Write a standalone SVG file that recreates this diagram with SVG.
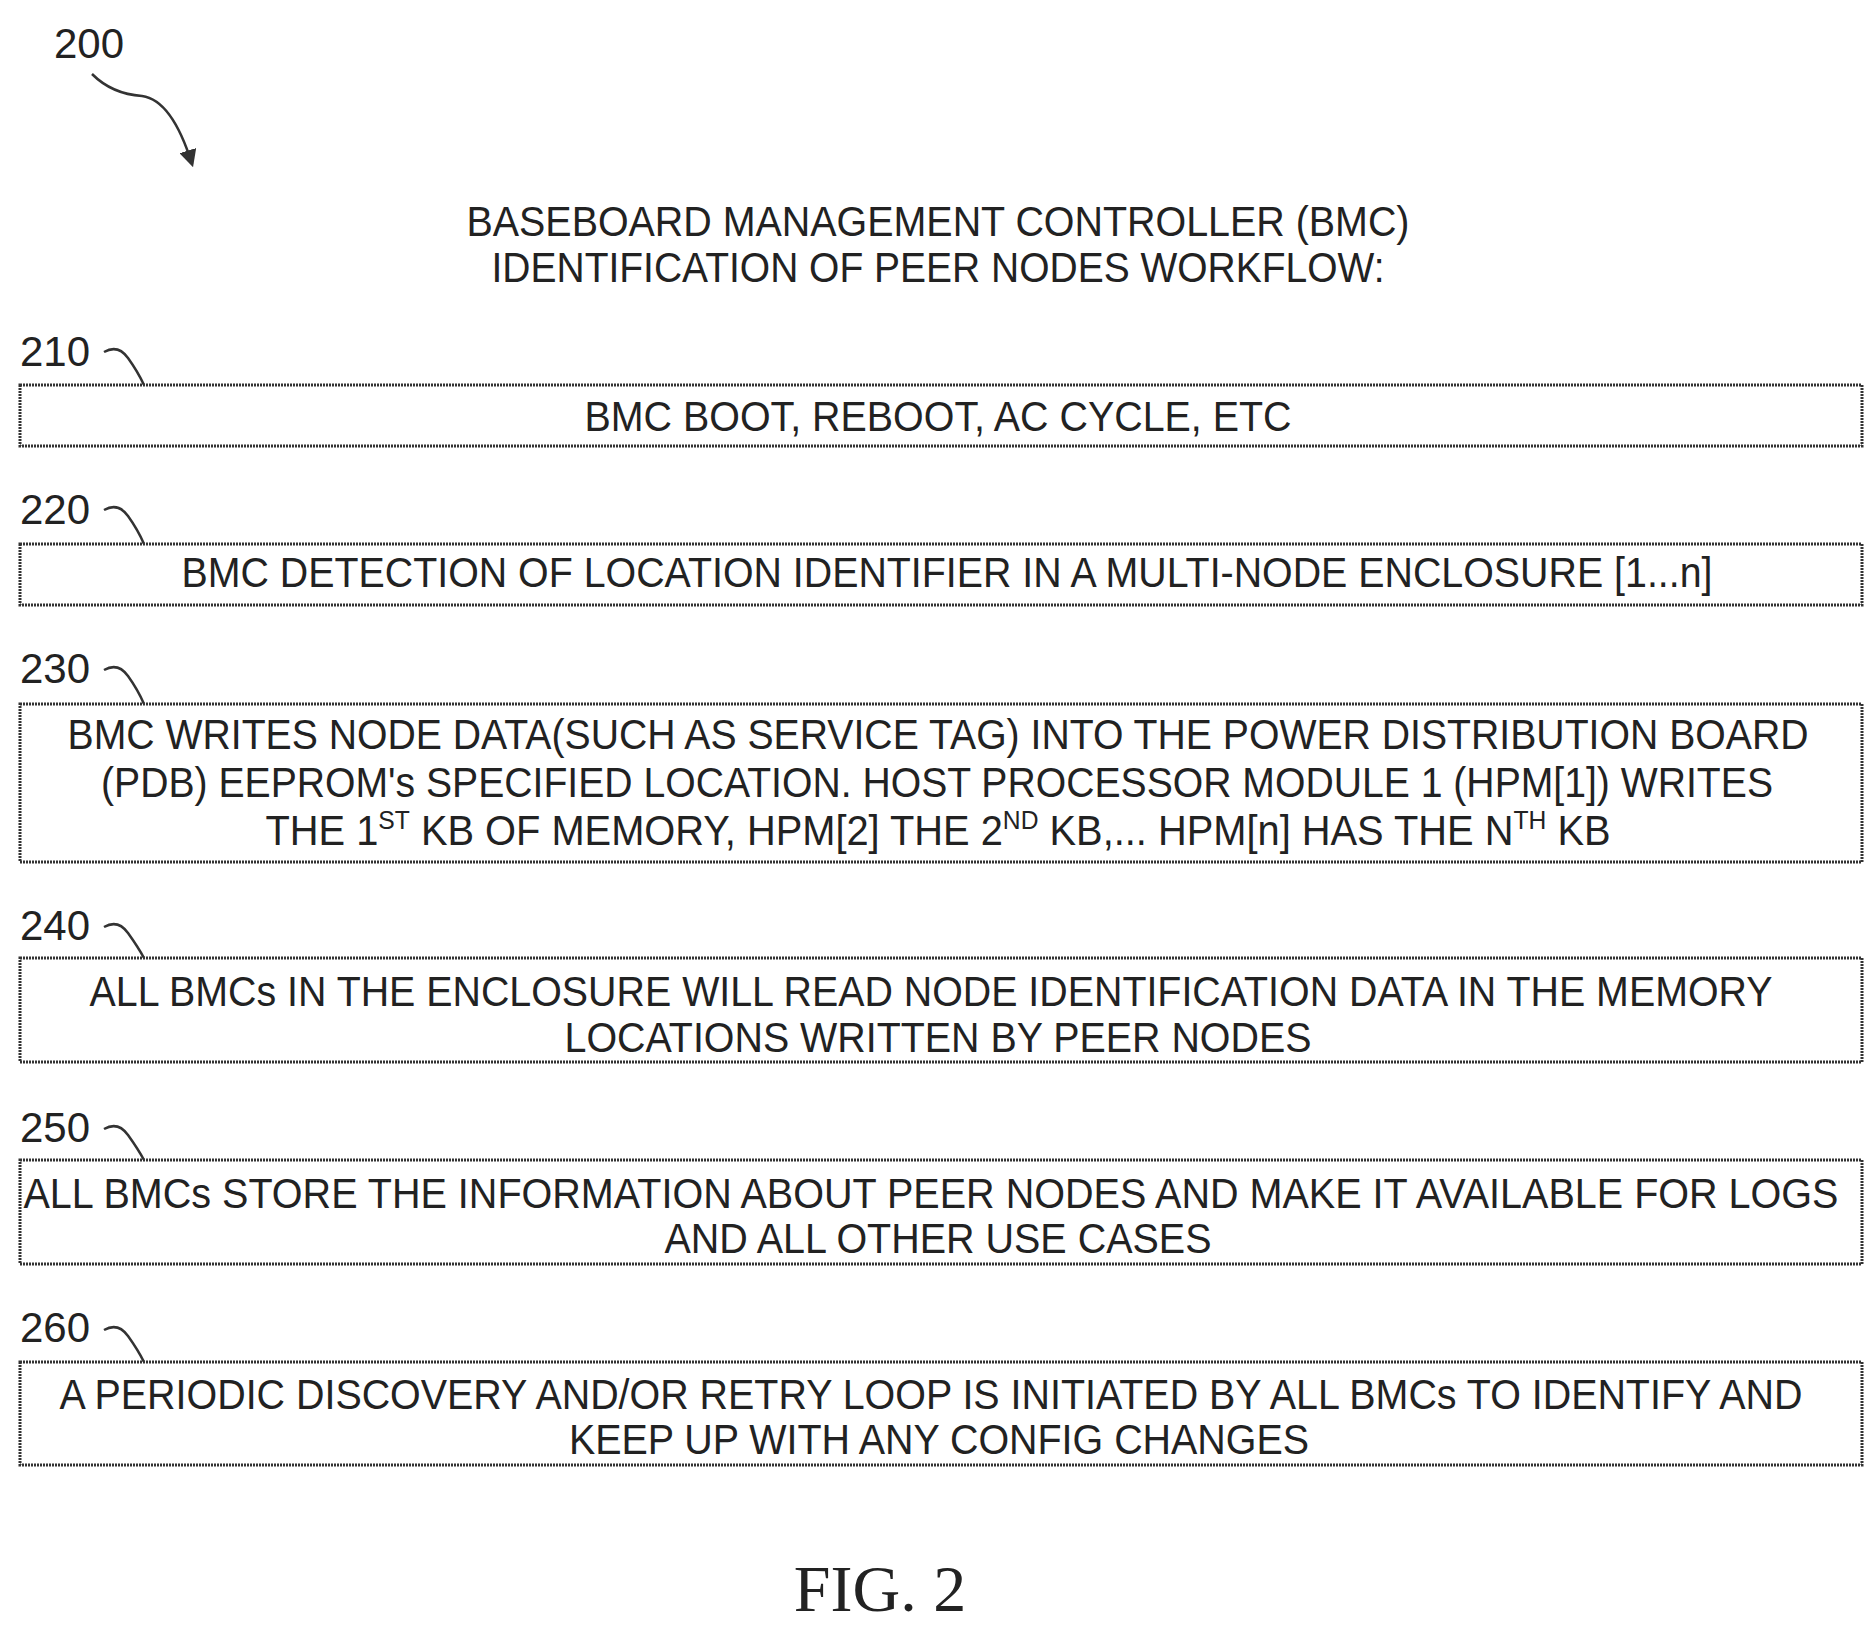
<svg xmlns="http://www.w3.org/2000/svg" width="1875" height="1625" viewBox="0 0 1875 1625">
<style>
text{font-family:"Liberation Sans Narrow","Liberation Sans",Arial,sans-serif;fill:#222}
.t{font-size:42px;text-anchor:middle}
.n{font-size:42px}
.b{fill:#fff;stroke:#333;stroke-width:3;stroke-dasharray:2 1}
.l{fill:none;stroke:#333;stroke-width:2.5}
</style>
<defs><marker id="ah" viewBox="0 0 10 10" refX="8" refY="5" markerWidth="7" markerHeight="7" orient="auto"><path d="M0,0L10,5L0,10z" fill="#333"/></marker></defs>
<rect width="1875" height="1625" fill="#fff"/>
<text class="n" x="54" y="58">200</text>
<text class="t" x="938" y="236" textLength="943" lengthAdjust="spacingAndGlyphs">BASEBOARD MANAGEMENT CONTROLLER (BMC)</text>
<text class="t" x="938" y="282" textLength="893" lengthAdjust="spacingAndGlyphs">IDENTIFICATION OF PEER NODES WORKFLOW:</text>
<g id="connectors">
<path class="l" d="M92,74 q20,20 50,22 q30,4 50,68" marker-end="url(#ah)"/>
<path class="l" d="M104,352 q14,-8 24,6 q10,14 16,27"/>
<path class="l" d="M104,510 q14,-8 24,6 q10,14 16,28"/>
<path class="l" d="M104,670 q14,-8 24,6 q10,14 16,28"/>
<path class="l" d="M104,927 q14,-8 24,6 q10,14 16,25"/>
<path class="l" d="M104,1129 q14,-8 24,6 q10,14 16,25"/>
<path class="l" d="M104,1330 q14,-8 24,6 q10,14 16,26"/>
</g>
<g id="n210"><text class="n" x="20" y="366">210</text><rect class="b" x="20" y="385" width="1842" height="61"/>
<text class="t" x="938" y="431" textLength="707" lengthAdjust="spacingAndGlyphs">BMC BOOT, REBOOT, AC CYCLE, ETC</text></g>
<g id="n220"><text class="n" x="20" y="524">220</text><rect class="b" x="20" y="544" width="1842" height="61"/>
<text class="t" x="947" y="587" textLength="1531" lengthAdjust="spacingAndGlyphs">BMC DETECTION OF LOCATION IDENTIFIER IN A MULTI-NODE ENCLOSURE [1...n]</text></g>
<g id="n230"><text class="n" x="20" y="683">230</text><rect class="b" x="20" y="704" width="1842" height="158"/>
<text class="t" x="938" y="749" textLength="1741" lengthAdjust="spacingAndGlyphs">BMC WRITES NODE DATA(SUCH AS SERVICE TAG) INTO THE POWER DISTRIBUTION BOARD</text>
<text class="t" x="937" y="797" textLength="1672" lengthAdjust="spacingAndGlyphs">(PDB) EEPROM's SPECIFIED LOCATION. HOST PROCESSOR MODULE 1 (HPM[1]) WRITES</text>
<text class="t" x="938" y="845" textLength="1345" lengthAdjust="spacingAndGlyphs">THE 1<tspan font-size="26" dy="-16">ST</tspan><tspan dy="16"> KB OF MEMORY, HPM[2] THE 2</tspan><tspan font-size="26" dy="-16">ND</tspan><tspan dy="16"> KB,... HPM[n] HAS THE N</tspan><tspan font-size="26" dy="-16">TH</tspan><tspan dy="16"> KB</tspan></text></g>
<g id="n240"><text class="n" x="20" y="940">240</text><rect class="b" x="20" y="958" width="1842" height="104"/>
<text class="t" x="931" y="1006" textLength="1683" lengthAdjust="spacingAndGlyphs">ALL BMCs IN THE ENCLOSURE WILL READ NODE IDENTIFICATION DATA IN THE MEMORY</text>
<text class="t" x="938" y="1052" textLength="747" lengthAdjust="spacingAndGlyphs">LOCATIONS WRITTEN BY PEER NODES</text></g>
<g id="n250"><text class="n" x="20" y="1142">250</text><rect class="b" x="20" y="1160" width="1842" height="104"/>
<text class="t" x="931" y="1208" textLength="1815" lengthAdjust="spacingAndGlyphs">ALL BMCs STORE THE INFORMATION ABOUT PEER NODES AND MAKE IT AVAILABLE FOR LOGS</text>
<text class="t" x="938" y="1253" textLength="547" lengthAdjust="spacingAndGlyphs">AND ALL OTHER USE CASES</text></g>
<g id="n260"><text class="n" x="20" y="1342">260</text><rect class="b" x="20" y="1362" width="1842" height="103"/>
<text class="t" x="931" y="1409" textLength="1743" lengthAdjust="spacingAndGlyphs">A PERIODIC DISCOVERY AND/OR RETRY LOOP IS INITIATED BY ALL BMCs TO IDENTIFY AND</text>
<text class="t" x="939" y="1454" textLength="740" lengthAdjust="spacingAndGlyphs">KEEP UP WITH ANY CONFIG CHANGES</text></g>
<text x="880" y="1611" style="font-family:'Liberation Serif',serif;font-size:66px;text-anchor:middle">FIG. 2</text>
</svg>
